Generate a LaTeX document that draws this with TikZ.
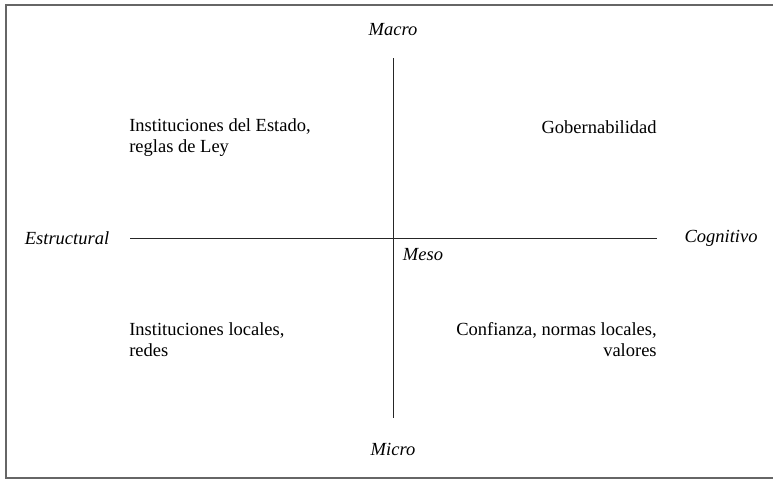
\documentclass[tikz,border=0pt]{standalone}
\usepackage{fontspec}
\setmainfont{Liberation Serif}

\begin{document}
\begin{tikzpicture}[x=0.6pt,y=-0.6pt]
    \tikzstyle{axis} = [line width=0.6pt,black!85]
    \tikzstyle{pole} = [inner sep=0pt, font=\fontsize{11.1}{12.6}\selectfont\itshape]
    \tikzstyle{quad} = [inner sep=0pt, font=\fontsize{11.1}{12.6}\selectfont]
    \useasboundingbox (0,0) rectangle (773,479);
    \clip (0,0) rectangle (773,479);

    % Frame
    \draw [line width=1.2pt, black!60] (6,4.5) rectangle (790,477.5);

    % Vertical axis
    \node [pole] (Macro) at (393,30) {Macro};
    \node [pole] (Micro) at (393,449) {Micro};
    \coordinate (Up) at (393,58);
    \coordinate (Down) at (393,418);
    \draw [axis] (Up) -- (Down);

    % Horizontal axis
    \node [pole] (Estructural) at (67,238) {Estructural};
    \node [pole] (Cognitivo) at (721,238) {Cognitivo};
    \coordinate (Left) at (130,238);
    \coordinate (Right) at (657,238);
    \draw [axis] (Left) -- (Right);

    % Centre
    \node [pole] (Meso) at (423,255) {Meso};

    % Upper quadrants
    \node [quad, anchor=west, align=left] (StateRules) at (129,137.5) {Instituciones del Estado,\\reglas de Ley};
    \node [quad, anchor=east] (Governance) at (657,127) {Gobernabilidad};

    % Lower quadrants
    \node [quad, anchor=west, align=left] (LocalNets) at (129,340) {Instituciones locales,\\redes};
    \node [quad, anchor=east, align=right] (Trust) at (657,340) {Confianza, normas locales,\\valores};
\end{tikzpicture}
\end{document}
